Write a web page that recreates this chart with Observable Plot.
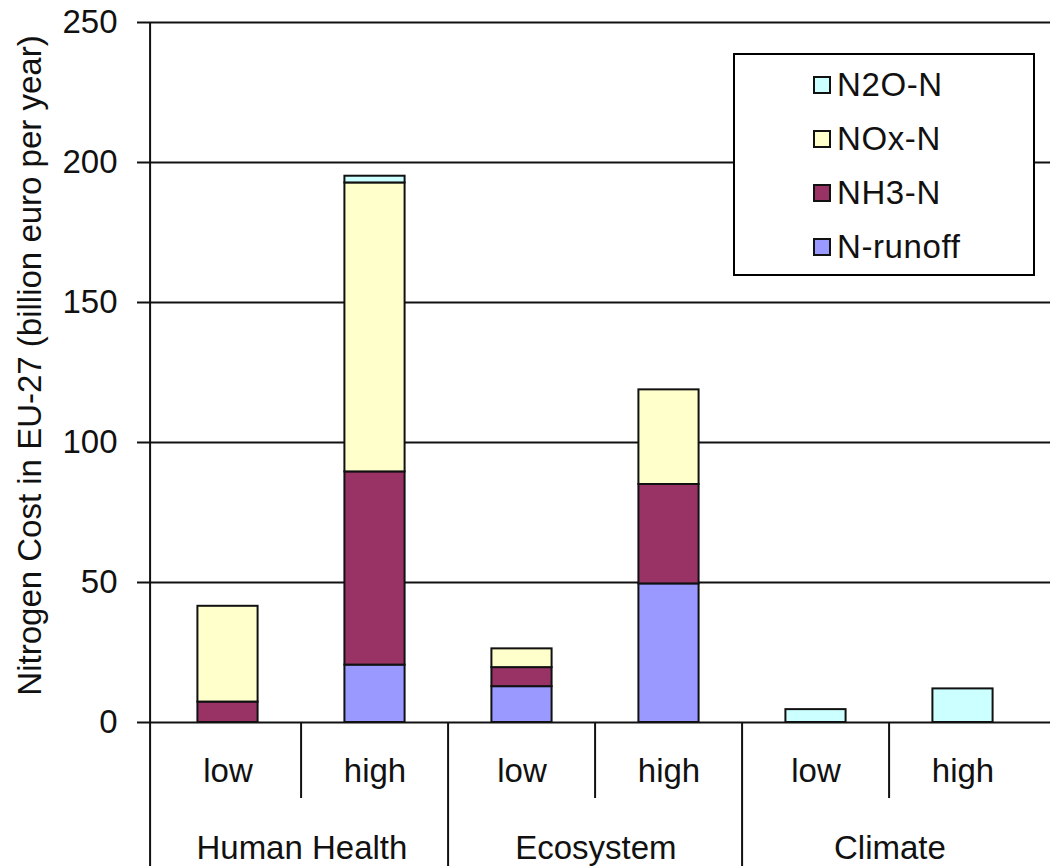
<!DOCTYPE html>
<html>
<head>
<meta charset="utf-8">
<script src="https://cdn.jsdelivr.net/npm/d3@7"></script>
<script src="https://cdn.jsdelivr.net/npm/@observablehq/plot@0.6"></script>
<style>
  body { margin: 0; background: #fff; font-family: "Liberation Sans", Arial, sans-serif; }
  #wrap { position: relative; width: 1050px; height: 866px; }
  #wrap svg { display: block; }
  #legend { position: absolute; left: 733px; top: 53px; width: 298px; height: 219px;
            border: 2px solid #000; background: #fff; }
  .item { position: absolute; left: 78px; display: flex; align-items: center; height: 40px;
          font-size: 33px; letter-spacing: 0.6px; color: #111; }
  .sw { width: 14px; height: 14px; border: 2px solid #111; margin-right: 6px; }
</style>
</head>
<body>
<div id="wrap"></div>
<script>
// Categories
const groups = ["Human Health", "Human Health", "Ecosystem", "Ecosystem", "Climate", "Climate"];
const levels = ["low", "high", "low", "high", "low", "high"];
const groupNames = ["Human Health", "Ecosystem", "Climate"];

// Series values (billion euro per year), bottom to top in the stack
const seriesNames = ["N-runoff", "NH3-N", "NOx-N", "N2O-N"];
const nRunoff = [0, 20.5, 12.8, 49.5, 0, 0];
const nh3     = [7.3, 69.0, 6.8, 35.5, 0, 0];
const nox     = [34.2, 103.2, 6.7, 33.8, 0, 0];
const n2o     = [0, 2.4, 0, 0, 4.6, 12.0];
const seriesColors = ["#9999FF", "#993366", "#FFFFCC", "#CCFFFF"];

// Y ticks
const yTicks = [0, 50, 100, 150, 200, 250];
const yTitle = "Nitrogen Cost in EU-27 (billion euro per year)";

const keys = groups.map((g, i) => g + " " + levels[i]);
const seriesValues = [nRunoff, nh3, nox, n2o];
const data = [];
keys.forEach((k, i) => {
  seriesNames.forEach((s, j) => {
    const v = seriesValues[j][i];
    if (v > 0) data.push({key: k, series: s, value: v});
  });
});
const levelRows = keys.map((k, i) => ({key: k, label: levels[i]}));
const groupRows = groupNames.map(g => ({key: g + " low", label: g}));
const shortDividers = keys.filter((k, i) => levels[i] === "high");
const longDividers = keys.filter((k, i) => levels[i] === "low" && i > 0);

const half = (1038 - 151) / 6 / 2;

const chart = Plot.plot({
  width: 1050,
  height: 866,
  marginTop: 22,
  marginBottom: 144,
  marginLeft: 147,
  marginRight: 0,
  style: {fontFamily: "'Liberation Sans', Arial, sans-serif", color: "#111", background: "#fff"},
  x: {domain: keys, range: [151, 1038], padding: 0, axis: null},
  y: {domain: [0, 250], axis: null},
  color: {domain: seriesNames, range: seriesColors},
  marks: [
    Plot.ruleY(yTicks, {stroke: "#111", strokeWidth: 2}),
    Plot.barY(data, {
      x: "key", y: "value", z: "series", fill: "series",
      order: seriesNames,
      stroke: "#111", strokeWidth: 2,
      insetLeft: half - 30.5, insetRight: half - 30.5
    }),
    // Y axis line extending through the category axis area
    Plot.ruleX([keys[0]], {x: d => d, dx: -half - 4, stroke: "#111", strokeWidth: 2, insetBottom: -144}),
    Plot.axisY(yTicks, {tickSize: 10, tickPadding: 20, fontSize: 33, strokeWidth: 2, label: null, stroke: "#111", fill: "#111"}),
    Plot.text([yTitle], {frameAnchor: "left", textAnchor: "middle", rotate: -90, dx: -117, dy: -7, fontSize: 33, fill: "#111"}),
    // Category axis dividers
    Plot.ruleX(shortDividers, {x: d => d, dx: -half, stroke: "#111", strokeWidth: 2, insetTop: 700, insetBottom: -76}),
    Plot.ruleX(longDividers, {x: d => d, dx: -half, stroke: "#111", strokeWidth: 2, insetTop: 700, insetBottom: -144}),
    Plot.text(levelRows, {x: "key", text: "label", frameAnchor: "bottom", dy: 59, fontSize: 33, fill: "#111"}),
    Plot.text(groupRows, {x: "key", text: "label", frameAnchor: "bottom", dx: half, dy: 136, fontSize: 33, fill: "#111"})
  ]
});

const wrap = document.getElementById("wrap");
wrap.appendChild(chart);

// Legend (top to bottom: reverse stack order)
const legend = document.createElement("div");
legend.id = "legend";
seriesNames.slice().reverse().forEach((s, i) => {
  const item = document.createElement("div");
  item.className = "item";
  item.style.top = (10 + i * 54) + "px";
  const sw = document.createElement("div");
  sw.className = "sw";
  sw.style.background = seriesColors[seriesNames.indexOf(s)];
  const t = document.createElement("span");
  t.textContent = s;
  item.appendChild(sw);
  item.appendChild(t);
  legend.appendChild(item);
});
wrap.appendChild(legend);
</script>
</body>
</html>
